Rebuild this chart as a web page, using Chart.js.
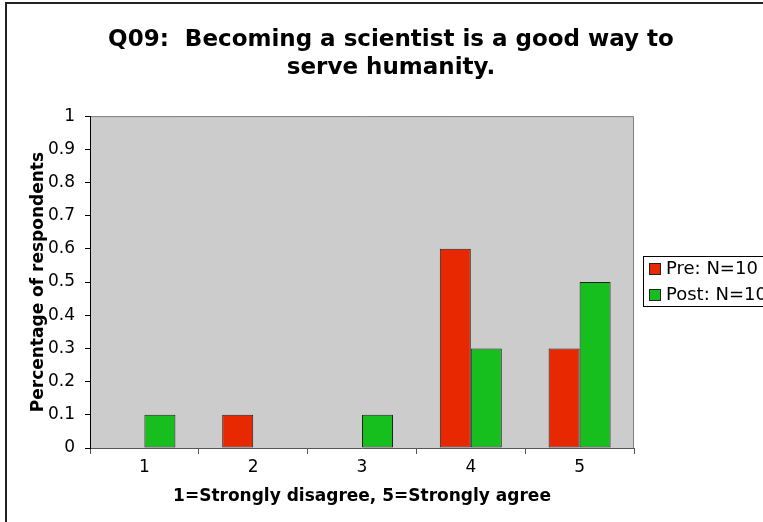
<!DOCTYPE html>
<html>
<head>
<meta charset="utf-8">
<script src="https://cdn.jsdelivr.net/npm/chart.js@4"></script>
<style>
  html, body { margin: 0; padding: 0; background: #fff; overflow: hidden; }
  #wrap { width: 763px; height: 522px; overflow: hidden; position: relative; }
  canvas { display: block; }
</style>
</head>
<body>
<div id="wrap"><canvas id="chart" width="782" height="522"></canvas></div>
<script>
// data
const categories = ['1', '2', '3', '4', '5'];
const preValues = [0, 0.1, 0, 0.6, 0.3];
const postValues = [0.1, 0, 0.1, 0.3, 0.5];
const yTicks = [0, 0.1, 0.2, 0.3, 0.4, 0.5, 0.6, 0.7, 0.8, 0.9, 1];
const seriesLabels = ['Pre: N=10', 'Post: N=10'];
const seriesColors = ['#E82800', '#16BE1E'];

Chart.defaults.font.family = '"DejaVu Sans", Verdana, sans-serif';
Chart.defaults.color = '#000';

// white page, outer frame and grey plot area
const backdrop = {
    id: 'backdrop',
    afterLayout(chart) {
        // centre the title over the whole page, not just the padded box
        const t = chart.titleBlock;
        if (t) { t.left = 0; t.right = chart.width; t.width = chart.width; }
    },
    beforeDraw(chart) {
        const c = chart.ctx;
        const a = chart.chartArea;
        c.save();
        c.fillStyle = '#fff';
        c.fillRect(0, 0, chart.width, chart.height);
        c.strokeStyle = '#222';
        c.lineWidth = 2;
        c.strokeRect(6, 3, chart.width + 20, chart.height + 20);
        c.fillStyle = '#CCCCCC';
        c.fillRect(a.left, a.top, a.right - a.left, a.bottom - a.top);
        c.strokeStyle = '#808080';
        c.lineWidth = 1;
        c.beginPath();
        c.moveTo(a.left, a.top + 0.5);
        c.lineTo(a.right - 0.5, a.top + 0.5);
        c.lineTo(a.right - 0.5, a.bottom);
        c.stroke();
        c.restore();
    }
};

// boxed legend to the right, like the spreadsheet one
const boxLegend = {
    id: 'boxLegend',
    afterDraw(chart) {
        const c = chart.ctx;
        const x = 643, y = 256;
        c.save();
        c.fillStyle = '#fff';
        c.fillRect(x, y, 160, 50);
        c.strokeStyle = '#000';
        c.lineWidth = 1;
        c.strokeRect(x + 0.5, y + 0.5, 160, 50);
        c.font = '18px "DejaVu Sans", Verdana, sans-serif';
        c.textBaseline = 'middle';
        chart.data.datasets.forEach((ds, i) => {
            const sy = y + 7 + i * 26;
            c.fillStyle = ds.backgroundColor;
            c.fillRect(x + 6, sy, 11, 11);
            c.strokeStyle = '#222';
            c.strokeRect(x + 6.5, sy + 0.5, 11, 11);
            c.fillStyle = '#000';
            c.fillText(ds.label, x + 23, sy + 6);
        });
        c.restore();
    }
};

new Chart(document.getElementById('chart'), {
    type: 'bar',
    data: {
        labels: categories,
        datasets: [
            {
                label: seriesLabels[0],
                data: preValues,
                backgroundColor: seriesColors[0],
                borderColor: '#222',
                borderWidth: ctx => (ctx.raw ? 1 : 0),
                borderSkipped: false,
                categoryPercentage: 0.57,
                barPercentage: 1
            },
            {
                label: seriesLabels[1],
                data: postValues,
                backgroundColor: seriesColors[1],
                borderColor: '#222',
                borderWidth: ctx => (ctx.raw ? 1 : 0),
                borderSkipped: false,
                categoryPercentage: 0.57,
                barPercentage: 1
            }
        ]
    },
    options: {
        responsive: false,
        animation: false,
        layout: { padding: { top: 0, left: 0, right: 148, bottom: 0 } },
        plugins: {
            legend: { display: false },
            tooltip: { enabled: false },
            title: {
                display: true,
                text: ['Q09:  Becoming a scientist is a good way to', 'serve humanity.'],
                font: { size: 23, weight: 'bold', lineHeight: 1.22 },
                color: '#000',
                padding: { top: 26, bottom: 34 }
            }
        },
        scales: {
            x: {
                offset: true,
                grid: { offset: true, drawOnChartArea: false, tickLength: 6, color: '#555' },
                border: { color: '#555', width: 1 },
                ticks: { font: { size: 17 }, color: '#000', padding: 3 },
                title: {
                    display: true,
                    text: '1=Strongly disagree, 5=Strongly agree',
                    font: { size: 17, weight: 'bold' },
                    color: '#000',
                    padding: { top: 0, bottom: 15 }
                },
                afterFit: scale => { scale.height = 74; }
            },
            y: {
                min: 0,
                max: 1,
                afterBuildTicks: axis => { axis.ticks = yTicks.map(v => ({ value: v })); },
                grid: { drawOnChartArea: false, tickLength: 5, color: '#000' },
                border: { color: '#000', width: 1 },
                ticks: { font: { size: 17 }, color: '#000', padding: 10, callback: v => String(v) },
                title: {
                    display: true,
                    text: 'Percentage of respondents',
                    font: { size: 17, weight: 'bold' },
                    color: '#000',
                    padding: { top: 28, bottom: 0 }
                },
                afterFit: scale => { scale.width = 90; }
            }
        }
    },
    plugins: [backdrop, boxLegend]
});
</script>
</body>
</html>
